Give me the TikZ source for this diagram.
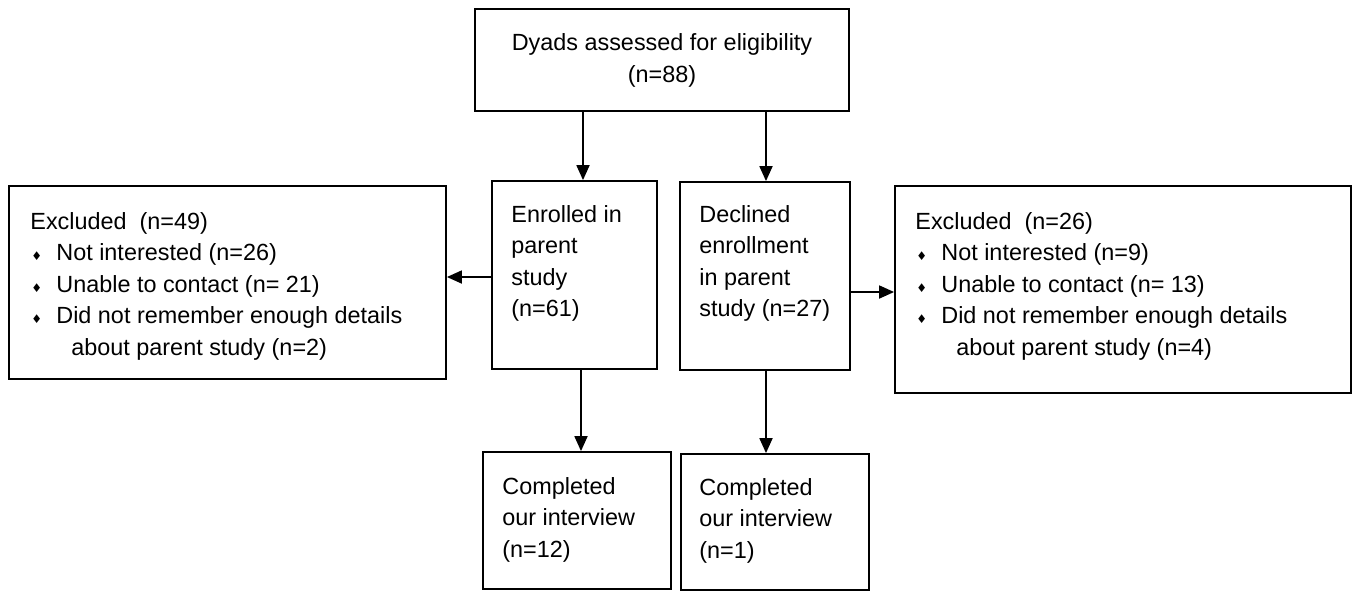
\documentclass[tikz,border=0pt]{standalone}
\usepackage{fontspec}
\setmainfont{Liberation Sans}
\newfontfamily\symfont{DejaVu Sans}
\usetikzlibrary{arrows.meta}

\newcommand{\itm}[1]{\makebox[13pt][l]{\hspace{0.5pt}{\symfont\fontsize{6}{6}\selectfont ♦}}#1}
\newcommand{\cont}{\hspace*{20.5pt}}

\tikzset{
  box/.style={draw,line width=0.9pt,inner sep=0pt},
  txt/.style={inner sep=0pt,align=left,anchor=north west,
    font=\fontsize{11.7}{15.75}\selectfont},
  arr/.style={line width=0.9pt,-{Triangle[length=7.5pt,width=6.5pt]}}
}

\begin{document}
\begin{tikzpicture}[x=0.5pt,y=-0.5pt]
  \useasboundingbox (0,0) rectangle (1356,591);
  % boxes
  \node[box,minimum width=187pt,minimum height=51pt] (assess) at (662,60) {};
  \node[box,minimum width=82.5pt,minimum height=94pt] (enrol) at (574.5,275) {};
  \node[box,minimum width=85pt,minimum height=94pt] (decl) at (765,276) {};
  \node[box,minimum width=218.5pt,minimum height=96.5pt] (exclL) at (227.5,282.5) {};
  \node[box,minimum width=228pt,minimum height=103.5pt] (exclR) at (1123,289.5) {};
  \node[box,minimum width=94pt,minimum height=68.5pt] (doneL) at (577,520.5) {};
  \node[box,minimum width=94pt,minimum height=68pt] (doneR) at (775,522) {};

  % texts
  \node[txt,align=center,anchor=north] (assessTxt) at (662,33.5)
    {Dyads assessed for eligibility\\(n=88)};
  \node[txt] (enrolTxt) at (511,205) {Enrolled in\\parent\\study\\(n=61)};
  \node[txt] (declTxt) at (699,205) {Declined\\enrollment\\in parent\\study (n=27)};
  \node[txt] (exclLTxt) at (30,212)
    {Excluded\ \ (n=49)\\\itm{Not interested (n=26)}\\\itm{Unable to contact (n= 21)}\\
     \itm{Did not remember enough details}\\\cont about parent study (n=2)};
  \node[txt] (exclRTxt) at (915,212)
    {Excluded\ \ (n=26)\\\itm{Not interested (n=9)}\\\itm{Unable to contact (n= 13)}\\
     \itm{Did not remember enough details}\\\cont about parent study (n=4)};
  \node[txt] (doneLTxt) at (502,477) {Completed\\our interview\\(n=12)};
  \node[txt] (doneRTxt) at (699,478) {Completed\\our interview\\(n=1)};

  % arrows
  \draw[arr] (assess.south -| 583,0) -- (583,0 |- enrol.north);
  \draw[arr] (assess.south -| 766,0) -- (766,0 |- decl.north);
  \draw[arr] (enrol.west |- 0,277) -- (exclL.east |- 0,277);
  \draw[arr] (decl.east |- 0,292) -- (exclR.west |- 0,292);
  \draw[arr] (enrol.south -| 581,0) -- (581,0 |- doneL.north);
  \draw[arr] (decl.south -| 766,0) -- (766,0 |- doneR.north);
\end{tikzpicture}
\end{document}
